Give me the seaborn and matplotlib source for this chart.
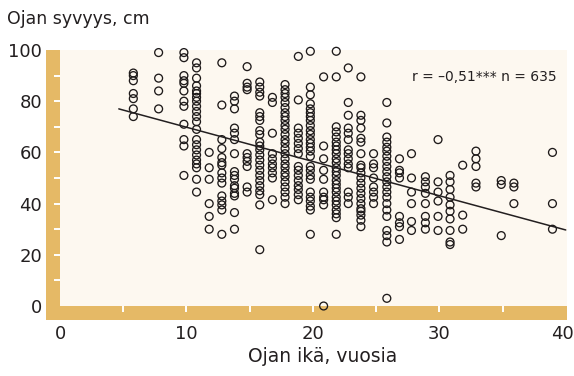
import numpy as np
import pandas as pd
import matplotlib
matplotlib.use("Agg")
import matplotlib.pyplot as plt
from matplotlib.patches import Rectangle
from matplotlib.ticker import FixedLocator
from matplotlib.transforms import ScaledTranslation
import seaborn as sns

# ---- data: column positions (ditch age, years) ----
col_ages = [5.8, 7.8, 9.8, 10.8, 11.8, 12.8, 13.8, 14.8, 15.8, 16.8, 17.8,
            18.85, 19.8, 20.85, 21.85, 22.8, 23.8, 24.8, 25.85, 26.85, 27.8,
            28.9, 29.9, 30.85, 31.85, 32.9, 34.9, 35.9, 38.95]

# ---- ditch depth (cm) per age column ----
d06 = [91, 90, 88, 83, 81, 77, 74]
d08 = [99, 89, 84, 77]
d10 = [99, 97, 90, 88, 87, 84, 80, 78, 71, 65, 62.5, 51]
d11 = [95, 93, 89, 86, 84, 83, 81.5, 80, 78, 76, 74, 72, 69, 65, 63, 61, 59,
       57, 55.5, 54, 49.5, 44.5]
d12 = [60, 54, 49.5, 40, 35, 30]
d13 = [95, 78.5, 65, 61.5, 58, 56, 55, 52, 50, 48, 43, 41, 39.5, 37.5, 28]
d14 = [82, 80, 77, 69.5, 67.5, 65, 59.5, 52.5, 51, 49.5, 47, 46, 44, 43,
       36.5, 30]
d15 = [93.5, 87, 85.5, 84.5, 59.5, 58, 56.5, 54.5, 46.5, 44.5]
d16 = [87.5, 85.5, 83.5, 82, 75.5, 74, 72.5, 68.5, 67, 64, 62.5, 61, 59, 57,
       55, 53, 51, 49, 47, 45, 43.5, 39.5, 22]
d17 = [81.5, 79.5, 67.5, 59.5, 57.5, 55.5, 54, 52, 50, 41.5]
d18 = [86.5, 84.5, 83, 81.5, 79.5, 77.5, 75.5, 74, 72.5, 70.5, 69, 67, 65,
       63.5, 61.5, 59.5, 57.5, 55.5, 54, 52, 50.5, 48.5, 46.5, 44.5, 42.5, 40]
d19 = [97.5, 80.5, 69.5, 67.5, 65.5, 63.5, 61.5, 59.5, 54.5, 53, 51, 49, 47,
       45.5, 43.5, 41.5]
d20 = [99.5, 85.5, 82.5, 79, 77, 75.5, 74, 72.5, 70.5, 68.5, 67, 65, 63.5, 62,
       60.5, 58.5, 54.5, 53, 51, 49.5, 44.5, 42.5, 41, 39, 37.5, 28]
d21 = [89.5, 62.5, 57.5, 53, 49.5, 44.5, 42.5, 41.5, 39.5, 0]
d22 = [99.5, 89.5, 70, 68, 66, 64, 62.5, 61, 59.5, 57.5, 56, 54, 52.5, 51, 49,
       47.5, 46, 44.5, 42.5, 41, 39.5, 37.5, 36, 34.5, 28]
d23 = [93, 79.5, 74.5, 69.5, 67.5, 65, 61, 59.5, 57.5, 55.5, 54, 44.5, 42.5, 40]
d24 = [89.5, 74.5, 72.5, 69.5, 65.5, 64, 59.5, 55, 54, 52, 50, 48, 46, 44, 42,
       40, 38, 37, 35.5, 33.5, 31]
d25 = [59.5, 55.5, 54, 50, 46.5, 44.5, 42.5, 40]
d26 = [79.5, 71.5, 66, 64, 62, 60.5, 58.5, 56.5, 54.5, 52.5, 50.5, 48.5, 46.5,
       44.5, 42.5, 40, 37.5, 35, 29.5, 27.5, 25, 3]
d27 = [57.5, 53, 52, 50, 35, 32.5, 31, 26]
d28 = [59.5, 50, 44.5, 40, 33, 29.5]
d29 = [50.5, 48.5, 46.5, 44, 40, 35, 32.5, 30]
d30 = [65, 48.5, 44.5, 41, 35, 29.5]
d31 = [51, 48.5, 45.5, 42.5, 39.5, 37, 34, 29.5, 25, 24]
d32 = [55, 35.5, 30]
d33 = [60.5, 57.5, 54.5, 48, 46.5]
d35 = [49, 47.5, 27.5]
d36 = [48, 46.5, 40]
d39 = [60, 40, 30]

depth_columns = [d06, d08, d10, d11, d12, d13, d14, d15, d16, d17, d18, d19,
                 d20, d21, d22, d23, d24, d25, d26, d27, d28, d29, d30, d31,
                 d32, d33, d35, d36, d39]

# regression line end points
line_age = [4.65, 40.0]
line_depth = [77.0, 29.7]

x_ticks = [0, 10, 20, 30, 40]
y_ticks = [0, 20, 40, 60, 80, 100]
x_marks = [5, 10, 15, 20, 25, 30, 35]
y_marks = [10, 20, 30, 40, 50, 60, 70, 80, 90]

xlabel = "Ojan ikä, vuosia"
ylabel = "Ojan syvyys, cm"
stat_text = "r = \u20130,51*** n = 635"

# ---- build table ----
rows = []
for a, col in zip(col_ages, depth_columns):
    for d in col:
        rows.append((a, d))
df = pd.DataFrame(rows, columns=["age", "depth"])

# ---- styling ----
sns.set_style("white")
plt.rcParams["font.family"] = ["DejaVu Sans"]
TXT = "#231f20"
TAN = "#e5b966"
CREAM = "#fdf8f0"

W, H = 574, 376
fig = plt.figure(figsize=(W / 100, H / 100), dpi=100)
ax_l, ax_r, ax_t, ax_b = 60, 567, 50, 306
ax = fig.add_axes([ax_l / W, 1 - ax_b / H, (ax_r - ax_l) / W, (ax_b - ax_t) / H])
ax.set_facecolor(CREAM)

# tan frame bands (left and bottom), behind the axes
band = 14
fig.add_artist(Rectangle(((ax_l - band) / W, 1 - (ax_b + band) / H),
                         band / W, (ax_b + band - ax_t) / H,
                         transform=fig.transFigure, facecolor=TAN,
                         edgecolor="none", zorder=-1))
fig.add_artist(Rectangle(((ax_l - band) / W, 1 - (ax_b + band) / H),
                         (ax_r - ax_l + band) / W, band / H,
                         transform=fig.transFigure, facecolor=TAN,
                         edgecolor="none", zorder=-1))

sns.scatterplot(data=df, x="age", y="depth", ax=ax, marker="o", s=32,
                facecolors="none", edgecolor="#1e1a1a", linewidth=0.95,
                clip_on=False, zorder=3, legend=False)
sns.lineplot(x=line_age, y=line_depth, ax=ax, color=TXT, linewidth=1.1,
             zorder=4)

ax.set_xlim(0, 40.1)
ax.set_ylim(0, 100)
for s in ax.spines.values():
    s.set_visible(False)

ax.xaxis.set_major_locator(FixedLocator(x_ticks))
ax.yaxis.set_major_locator(FixedLocator(y_ticks))
ax.xaxis.set_minor_locator(FixedLocator(x_marks))
ax.yaxis.set_minor_locator(FixedLocator(y_marks))
ax.xaxis.remove_overlapping_locs = False
ax.yaxis.remove_overlapping_locs = False
ax.tick_params(axis="both", which="major", length=0, labelsize=13,
               labelcolor=TXT)
ax.tick_params(axis="x", which="major", pad=13.5)
ax.tick_params(axis="y", which="major", pad=13)
ax.tick_params(axis="both", which="minor", direction="out", length=4.3,
               width=1.4, color="white")
ax.xaxis.set_ticks_position("bottom")
ax.yaxis.set_ticks_position("left")

# nudge the last x label inwards so it stays inside the image
fig.canvas.draw()
last = ax.get_xticklabels()[-1]
last.set_transform(last.get_transform() +
                   ScaledTranslation(-3.5 / 100, 0, fig.dpi_scale_trans))

ax.set_xlabel(xlabel, fontsize=13.5, color=TXT, va="baseline")
ax.xaxis.set_label_coords((323 - ax_l) / (ax_r - ax_l), (ax_b - 361.7) / (ax_b - ax_t))
ax.set_ylabel(ylabel, fontsize=12.5, color=TXT, rotation=0, ha="left",
              va="baseline")
ax.yaxis.set_label_coords((7 - ax_l) / (ax_r - ax_l), (ax_b - 23.5) / (ax_b - ax_t))

ax.text(39.3, 89.5, stat_text, ha="right", va="center", fontsize=10,
        color=TXT)

fig.savefig("out.png", dpi=100)
